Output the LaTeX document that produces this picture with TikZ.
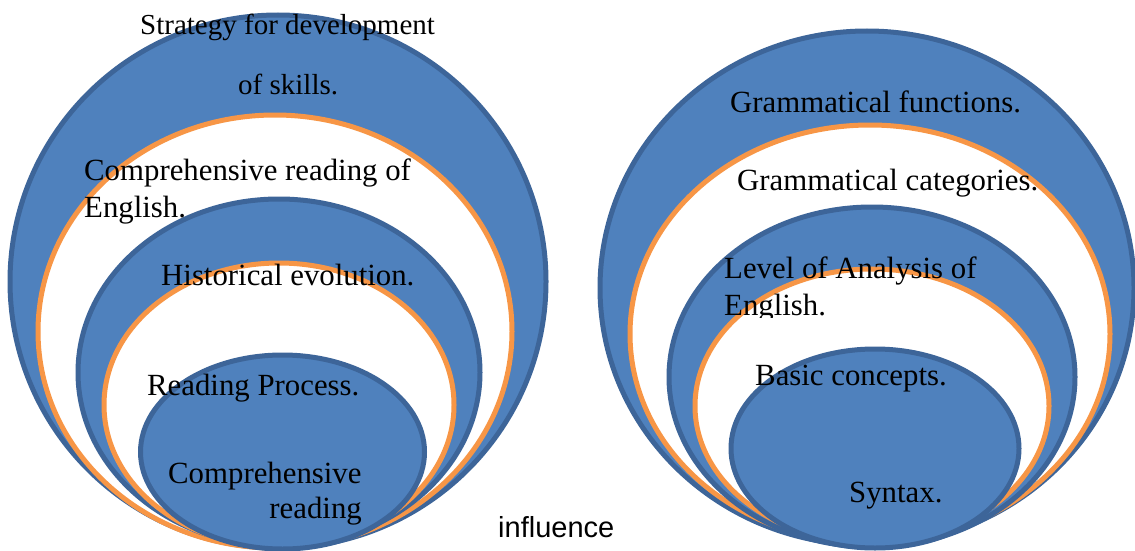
\documentclass[tikz,border=0pt]{standalone}
\usepackage{fontspec}
\setmainfont{Liberation Serif}
\newfontfamily\arialfont{Liberation Sans}
\definecolor{fillblue}{HTML}{4F81BD}
\definecolor{edgeblue}{HTML}{3D6599}
\definecolor{ringorange}{HTML}{F79646}
\begin{document}
\begin{tikzpicture}[x=1pt,y=-1pt,
  blueell/.style={fill=fillblue,draw=edgeblue,line width=5pt},
  whiteell/.style={fill=white,draw=ringorange,line width=5pt},
  lbl/.style={anchor=base west,inner sep=0pt,font=\fontsize{30.8}{36}\selectfont},
  tlbl/.style={anchor=base west,inner sep=0pt,font=\fontsize{29}{35}\selectfont},
  slbl/.style={anchor=base west,inner sep=0pt,font=\arialfont\fontsize{29}{35}\selectfont}]
\useasboundingbox (0,0) rectangle (1135,551);
% left set
\draw[blueell]  (278,281.5) ellipse [x radius=268, y radius=266.5];
\draw[whiteell] (275,331.5) ellipse [x radius=237, y radius=216.5];
\draw[blueell]  (279,372.5) ellipse [x radius=201, y radius=173.5];
\draw[whiteell] (279,405)   ellipse [x radius=175, y radius=142];
\draw[blueell]  (282.5,452) ellipse [x radius=142, y radius=97];
% right set
\draw[blueell]  (867,288)   ellipse [x radius=267, y radius=257];
\draw[whiteell] (870,334)   ellipse [x radius=240, y radius=209];
\draw[blueell]  (872,377)   ellipse [x radius=203, y radius=170];
\draw[whiteell] (872,406)   ellipse [x radius=177, y radius=137];
\draw[blueell]  (875,448.5) ellipse [x radius=144, y radius=99.5];
% left labels
\node[tlbl] (s1) at (140,35) {Strategy for development};
\node[tlbl] (s2) at (238,94) {of skills.};
\node[lbl] (c1) at (84,180) {Comprehensive reading of};
\node[lbl] (c2) at (84,217) {English.};
\node[lbl] (h1) at (161,285) {Historical evolution.};
\node[lbl] (r1) at (147,395) {Reading Process.};
\node[lbl] (cr1) at (168,483) {Comprehensive};
\node[lbl,anchor=base east] (cr2) at (362,518) {reading};
% middle
\node[slbl] (inf) at (498,537) {influence};
% right labels
\node[lbl] (g1) at (730,112) {Grammatical functions.};
\node[lbl] (g2) at (737,190) {Grammatical categories.};
\node[lbl] (l1) at (724,278) {Level of Analysis of};
\begin{scope}
\clip (700,250) rectangle (1000,317);
\node[lbl] (l2) at (724,315) {English.};
\end{scope}
\node[lbl] (b1) at (755,385) {Basic concepts.};
\node[lbl] (sy) at (849,502) {Syntax.};
\end{tikzpicture}
\end{document}
